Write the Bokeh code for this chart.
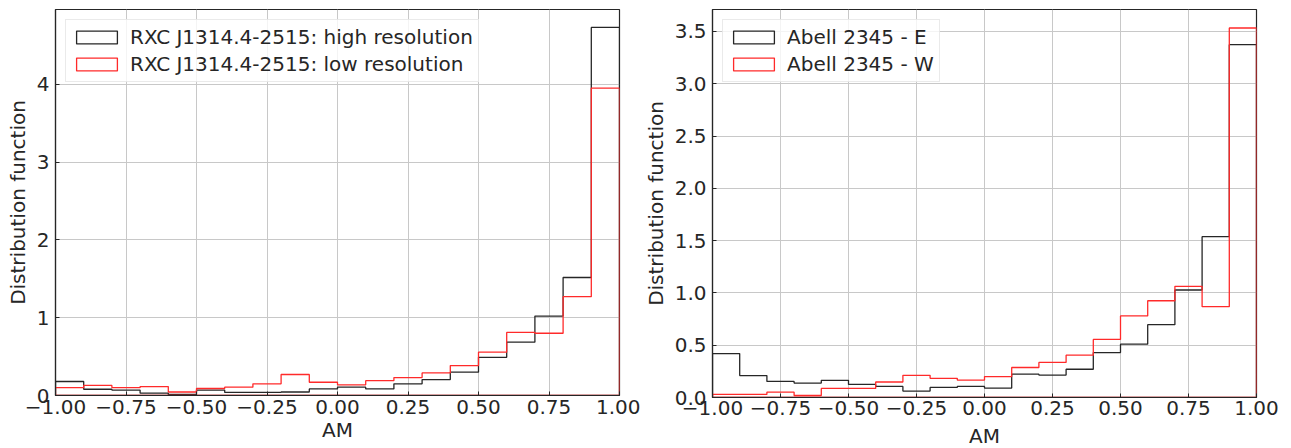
import numpy as np
from bokeh.plotting import figure
from bokeh.layouts import row
from bokeh.models import (Range1d, FixedTicker, CustomJSTickFormatter, Legend,
                          LegendItem)
from bokeh.embed import file_html
from bokeh.resources import INLINE

# 20 bins of width 0.1 on [-1, 1]
bin_edges = np.round(np.linspace(-1.0, 1.0, 21), 2)

# RXC J1314.4-2515
rxc_high = [0.18, 0.08, 0.07, 0.03, 0.013, 0.07, 0.04, 0.04, 0.045, 0.085,
            0.107, 0.085, 0.15, 0.205, 0.30, 0.49, 0.685, 1.02, 1.516, 4.73]
rxc_low = [0.10, 0.13, 0.10, 0.115, 0.045, 0.09, 0.107, 0.15, 0.27, 0.17,
           0.137, 0.19, 0.23, 0.29, 0.385, 0.557, 0.81, 0.80, 1.27, 3.95]

# Abell 2345
abell_e = [0.42, 0.21, 0.154, 0.138, 0.164, 0.125, 0.106, 0.061, 0.096, 0.106,
           0.09, 0.223, 0.214, 0.27, 0.43, 0.51, 0.696, 1.028, 1.538, 3.374]
abell_w = [0.029, 0.029, 0.051, 0.019, 0.087, 0.087, 0.148, 0.212, 0.183, 0.167,
           0.20, 0.287, 0.335, 0.405, 0.555, 0.78, 0.925, 1.063, 0.868, 3.533]

x_ticks = [-1.0, -0.75, -0.5, -0.25, 0.0, 0.25, 0.5, 0.75, 1.0]
left_y_ticks = [0, 1, 2, 3, 4]
right_y_ticks = [0.0, 0.5, 1.0, 1.5, 2.0, 2.5, 3.0, 3.5]

FONT = "DejaVu Sans"
TEXT = "#262626"
FS = "20px"


def step_outline(edges, counts):
    """Closed outline of a step histogram (up from zero, across, back down)."""
    c = np.asarray(counts, dtype=float)
    xs = np.repeat(edges, 2)
    ys = np.concatenate([[0.0], np.repeat(c, 2), [0.0]])
    return xs, ys


def make_panel(series, labels, y_max, y_ticks, y_fmt, borders, frame,
               x_standoffs):
    left, right, top, bottom = borders
    fw, fh = frame
    p = figure(frame_width=fw, frame_height=fh,
               min_border_left=left, min_border_right=right,
               min_border_top=top, min_border_bottom=bottom,
               x_range=Range1d(-1.0, 1.0), y_range=Range1d(0.0, y_max),
               output_backend="svg", toolbar_location=None,
               background_fill_color="white", border_fill_color="white")
    p.outline_line_color = TEXT
    p.outline_line_width = 1.2

    p.xaxis.ticker = FixedTicker(ticks=x_ticks)
    p.yaxis.ticker = FixedTicker(ticks=y_ticks)
    p.xaxis.formatter = CustomJSTickFormatter(
        code="return tick.toFixed(2).replace('-', '\u2212');")
    p.yaxis.formatter = CustomJSTickFormatter(
        code="return tick.toFixed(%d);" % y_fmt)
    p.xaxis.minor_tick_line_color = None
    p.yaxis.minor_tick_line_color = None
    for ax in (p.xaxis, p.yaxis):
        ax.major_tick_in = 4
        ax.major_tick_out = 0
        ax.major_tick_line_color = TEXT
        ax.axis_line_color = TEXT
        ax.axis_line_width = 1.2
        ax.major_label_text_font = FONT
        ax.major_label_text_font_size = FS
        ax.major_label_text_color = TEXT
        ax.axis_label_text_font = FONT
        ax.axis_label_text_font_size = FS
        ax.axis_label_text_color = TEXT
        ax.axis_label_text_font_style = "normal"
    p.xaxis.axis_label = "AM"
    p.yaxis.axis_label = "Distribution function"
    p.xaxis.major_label_standoff = x_standoffs[0]
    p.xaxis.axis_label_standoff = x_standoffs[1]
    p.yaxis.major_label_standoff = 6
    p.yaxis.axis_label_standoff = 4

    p.xgrid.ticker = FixedTicker(ticks=x_ticks)
    p.ygrid.ticker = FixedTicker(ticks=y_ticks)
    p.grid.grid_line_color = "#c8c8c8"
    p.grid.grid_line_width = 1

    items = []
    for counts, color, label in zip(series, ["#262626", "#ff2a2a"], labels):
        xs, ys = step_outline(bin_edges, counts)
        hist = p.patch(xs, ys, fill_alpha=0, line_color=color, line_width=1.3)
        items.append(LegendItem(label=label, renderers=[hist]))

    legend = Legend(items=items, location="top_left", margin=10,
                    glyph_width=51, glyph_height=16, label_height=23,
                    label_standoff=8, spacing=3, padding=5,
                    label_text_font=FONT, label_text_font_size=FS,
                    label_text_color=TEXT,
                    border_line_color="#d6d6d6", border_line_width=1,
                    background_fill_color="white", background_fill_alpha=0.8)
    p.add_layout(legend, "center")
    return p


p1 = make_panel([rxc_high, rxc_low],
                ["RXC J1314.4-2515: high resolution",
                 "RXC J1314.4-2515: low resolution"],
                4.96, left_y_ticks, 0,
                (55, 21, 7, 55), (564, 386), (4, 1))
p2 = make_panel([abell_e, abell_w],
                ["Abell 2345 - E", "Abell 2345 - W"],
                3.71, right_y_ticks, 1,
                (71, 36, 9, 51), (544, 388), (3, 6))

layout = row(p1, p2)
open("out.html", "w").write(file_html(layout, INLINE))
